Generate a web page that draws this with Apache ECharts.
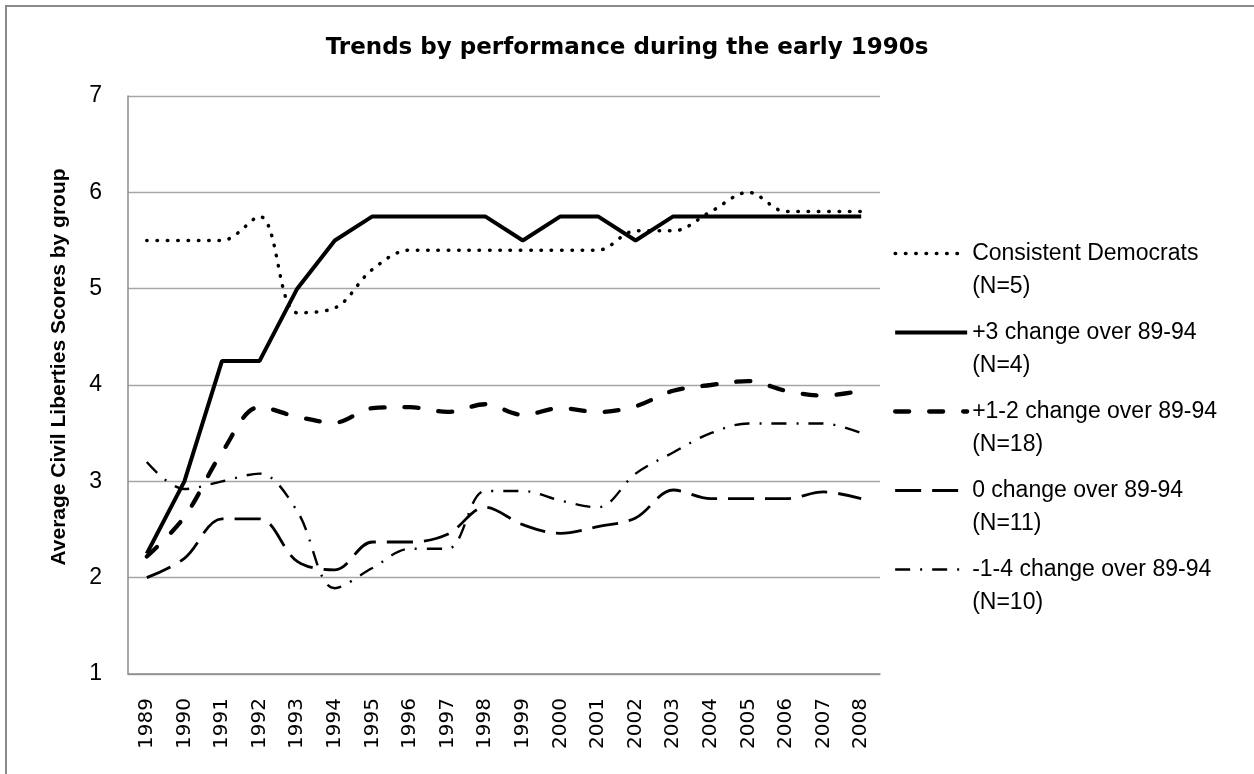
<!DOCTYPE html>
<html>
<head>
<meta charset="utf-8">
<title>Trends by performance during the early 1990s</title>
<script src="https://cdn.jsdelivr.net/npm/echarts@6/dist/echarts.min.js"></script>
<style>
  html, body { margin: 0; padding: 0; background: #fff; }
  #chart { width: 1254px; height: 774px; }
</style>
</head>
<body>
<div id="chart"></div>
<script>
// years on the x axis
var years = ['1989', '1990', '1991', '1992', '1993', '1994', '1995', '1996', '1997', '1998',
             '1999', '2000', '2001', '2002', '2003', '2004', '2005', '2006', '2007', '2008'];

// group averages
var consistentDemocrats = [5.5, 5.5, 5.5, 5.75, 4.75, 4.8, 5.2, 5.4, 5.4, 5.4,
                           5.4, 5.4, 5.4, 5.6, 5.6, 5.8, 6.0, 5.8, 5.8, 5.8];
var plus3Change = [2.25, 3.0, 4.25, 4.25, 5.0, 5.5, 5.75, 5.75, 5.75, 5.75,
                   5.5, 5.75, 5.75, 5.5, 5.75, 5.75, 5.75, 5.75, 5.75, 5.75];
var plus12Change = [2.22, 2.63, 3.3, 3.77, 3.67, 3.61, 3.76, 3.77, 3.72, 3.8,
                    3.69, 3.76, 3.72, 3.78, 3.94, 4.0, 4.04, 3.94, 3.89, 3.94];
var zeroChange = [2.0, 2.2, 2.61, 2.61, 2.17, 2.08, 2.37, 2.37, 2.45, 2.73,
                  2.55, 2.46, 2.53, 2.62, 2.91, 2.82, 2.82, 2.82, 2.89, 2.82];
var minusChange = [3.2, 2.92, 3.0, 3.08, 2.69, 1.89, 2.1, 2.3, 2.3, 2.9,
                   2.9, 2.8, 2.73, 3.08, 3.3, 3.5, 3.6, 3.6, 3.6, 3.5];

var seriesNames = [
  'Consistent Democrats\n(N=5)',
  '+3 change over 89-94\n(N=4)',
  '+1-2 change over 89-94\n(N=18)',
  '0 change over 89-94\n(N=11)',
  '-1-4 change over 89-94\n(N=10)'
];

// line look per group: width, dash, cap, smoothing
var styles = [
  { width: 3.5, type: [0.5, 9.8], cap: 'round', smooth: 0.35 },
  { width: 4, type: 'solid', cap: 'butt', smooth: false },
  { width: 4.3, type: [14, 20], cap: 'round', smooth: 0.35 },
  { width: 2.8, type: [26, 11], cap: 'butt', smooth: 0.35 },
  { width: 2.4, type: [15, 10, 2, 10], cap: 'butt', smooth: 0.35 }
];
var seriesData = [consistentDemocrats, plus3Change, plus12Change, zeroChange, minusChange];

var chart = echarts.init(document.getElementById('chart'));

var series = seriesNames.map(function (name, i) {
  var s = styles[i];
  return {
    name: name,
    type: 'line',
    data: seriesData[i],
    symbol: 'none',
    smooth: s.smooth,
    color: '#000',
    lineStyle: { color: '#000', width: s.width, type: s.type, cap: s.cap }
  };
});

// legend keys: only the line, no marker
var legendData = seriesNames.map(function (name, i) {
  var s = styles[i];
  return {
    name: name,
    itemStyle: { opacity: 0 },
    lineStyle: { color: '#000', width: s.width, type: s.type, cap: s.cap }
  };
});

var option = {
  backgroundColor: '#fff',
  animation: false,
  title: {
    text: 'Trends by performance during the early 1990s',
    left: 'center',
    top: 32,
    textStyle: { fontFamily: 'DejaVu Sans', fontWeight: 'bold', fontSize: 23, color: '#000' }
  },
  graphic: [{
    type: 'rect',
    shape: { x: 6, y: 6, width: 1400, height: 900 },
    style: { fill: 'none', stroke: '#8a8a8a', lineWidth: 2 },
    silent: true
  }],
  legend: {
    orient: 'vertical',
    left: 893,
    top: 204,
    padding: 0,
    itemGap: -20,
    itemWidth: 72,
    itemHeight: 14,
    itemStyle: { opacity: 0 },
    data: legendData,
    formatter: function (name) { return '\n' + name; },
    textStyle: { fontFamily: 'Liberation Sans', fontSize: 23, lineHeight: 33, color: '#000' }
  },
  grid: { left: 128, right: 374, top: 96, bottom: 100 },
  xAxis: {
    type: 'category',
    data: years,
    boundaryGap: true,
    axisTick: { show: false },
    axisLine: { lineStyle: { color: '#8c8c8c', width: 1.5 } },
    axisLabel: {
      rotate: 90,
      margin: 24,
      interval: 0,
      fontFamily: 'DejaVu Sans',
      fontSize: 20,
      color: '#000'
    }
  },
  yAxis: {
    type: 'value',
    min: 1,
    max: 7,
    interval: 1,
    name: 'Average Civil Liberties Scores by group',
    nameLocation: 'middle',
    nameGap: 58,
    nameTextStyle: {
      fontFamily: 'Liberation Sans',
      fontWeight: 'bold',
      fontSize: 21,
      color: '#000',
      padding: [0, 0, 0, 36]
    },
    axisLine: { show: true, lineStyle: { color: '#8c8c8c', width: 1.5 } },
    axisTick: { show: false },
    splitLine: { lineStyle: { color: '#a6a6a6', width: 1.3 } },
    axisLabel: { margin: 26, fontFamily: 'Liberation Sans', fontSize: 23, color: '#000' }
  },
  series: series
};

chart.setOption(option);
</script>
</body>
</html>
